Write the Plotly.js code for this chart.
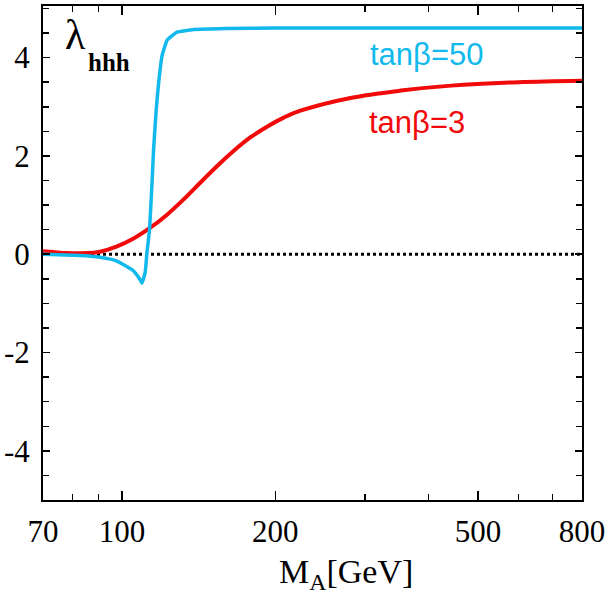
<!DOCTYPE html>
<html>
<head>
<meta charset="utf-8">
<script src="https://cdn.plot.ly/plotly-3.0.1.min.js"></script>
<style>html,body{margin:0;padding:0;background:#fff;}#chart{width:610px;height:596px;}</style>
</head>
<body>
<div id="chart"></div>
<script>
// tanβ = 50 curve
const ma50 = [70, 75, 80, 85, 90.6, 95, 97.8, 101, 105.4, 108.6, 109.5, 111.1, 112.0, 113.3, 114.6, 115.4, 116.8, 118.1, 119.9, 122.7, 128.3, 138.3, 160, 200, 300, 500, 800];
const lam50 = [0.0, -0.01, -0.02, -0.03, -0.06, -0.1, -0.14, -0.22, -0.34, -0.52, -0.59, -0.37, 0.04, 0.5, 1.47, 2.14, 2.96, 3.5, 4.04, 4.36, 4.52, 4.57, 4.59, 4.6, 4.6, 4.6, 4.6];
// tanβ = 3 curve
const ma3 = [70, 74, 78, 83, 87.8, 90.6, 97.8, 105.4, 113.7, 122.8, 132, 142.6, 154, 165.6, 178.9, 193, 207.8, 224, 281, 353, 443, 600, 800];
const lam3 = [0.06, 0.04, 0.025, 0.02, 0.03, 0.05, 0.16, 0.32, 0.54, 0.81, 1.11, 1.46, 1.80, 2.10, 2.38, 2.60, 2.78, 2.92, 3.18, 3.33, 3.43, 3.5, 3.53];
// zero reference line
const maZero = [70, 800];
const lamZero = [0, 0];
// ticks
const xTickVals = [70, 100, 200, 500, 800];
const xTickText = ['70', '100', '200', '500', '800'];
const xMinorVals = [80, 90, 300, 400, 600, 700];
const yTickVals = [-4, -2, 0, 2, 4];
const yTickText = ['-4', '-2', '0', '2', '4'];

const traces = [
  {x: maZero, y: lamZero, mode: 'lines', line: {color: '#000', width: 3, dash: 'dot'}, hoverinfo: 'skip'},
  {x: ma3, y: lam3, mode: 'lines', line: {color: '#f00a0a', width: 4, shape: 'spline', smoothing: 1}},
  {x: ma50, y: lam50, mode: 'lines', line: {color: '#12b9ec', width: 3.5, shape: 'spline', smoothing: 0.3}}
];

const layout = {
  width: 610, height: 596,
  margin: {l: 43, r: 28, t: 6, b: 96},
  paper_bgcolor: '#fff', plot_bgcolor: '#fff',
  showlegend: false,
  font: {family: '"Liberation Serif", "Times New Roman", serif', color: '#000'},
  xaxis: {
    type: 'log',
    range: [Math.log10(70), Math.log10(800)],
    tickmode: 'array', tickvals: xTickVals, ticktext: xTickText,
    ticks: 'inside', ticklen: 9, tickwidth: 1.5, tickcolor: '#000',
    minor: {tickmode: 'array', tickvals: xMinorVals, ticks: 'inside', ticklen: 6, tickwidth: 1.5, tickcolor: '#000', showgrid: false},
    showline: true, linecolor: '#000', linewidth: 2, mirror: 'ticks',
    showgrid: false, zeroline: false,
    tickfont: {family: '"Liberation Serif", serif', size: 31, color: '#000'},
    ticklabelstandoff: 3
  },
  yaxis: {
    range: [-5, 5.05],
    tickmode: 'array', tickvals: yTickVals, ticktext: yTickText,
    ticks: 'inside', ticklen: 7, tickwidth: 1.5, tickcolor: '#000',
    minor: {dtick: 0.5, tick0: 0, ticks: 'inside', ticklen: 6, tickwidth: 1.5, tickcolor: '#000', showgrid: false},
    showline: true, linecolor: '#000', linewidth: 2, mirror: 'ticks',
    showgrid: false, zeroline: false,
    tickfont: {family: '"Liberation Serif", serif', size: 31, color: '#000'},
    ticklabelstandoff: 5
  },
  annotations: [
    {xref: 'paper', yref: 'paper', x: (75-43)/539, y: (500-60)/494, xanchor: 'center', yanchor: 'bottom',
     text: 'λ', showarrow: false, font: {family: '"Liberation Serif", serif', size: 42, color: '#000'}},
    {xref: 'paper', yref: 'paper', x: (86-43)/539, y: (500-78)/494, xanchor: 'left', yanchor: 'bottom',
     text: '<b>hhh</b>', showarrow: false, font: {family: '"Liberation Serif", serif', size: 25, color: '#000'}},
    {xref: 'paper', yref: 'paper', x: (427-43)/539, y: (500-54)/494, xanchor: 'center', yanchor: 'middle',
     text: 'tanβ=50', showarrow: false, font: {family: '"Liberation Sans", Arial, sans-serif', size: 31, color: '#12b9ec'}},
    {xref: 'paper', yref: 'paper', x: (417-43)/539, y: (500-123)/494, xanchor: 'center', yanchor: 'middle',
     text: 'tanβ=3', showarrow: false, font: {family: '"Liberation Sans", Arial, sans-serif', size: 31, color: '#f00a0a'}},
    {xref: 'paper', yref: 'paper', x: (346-43)/539, y: -(574-500)/494, xanchor: 'center', yanchor: 'middle',
     text: 'M<sub>A</sub>[GeV]', showarrow: false, font: {family: '"Liberation Serif", serif', size: 34, color: '#000'}}
  ]
};

Plotly.newPlot('chart', traces, layout, {staticPlot: true, displayModeBar: false});
</script>
</body>
</html>
